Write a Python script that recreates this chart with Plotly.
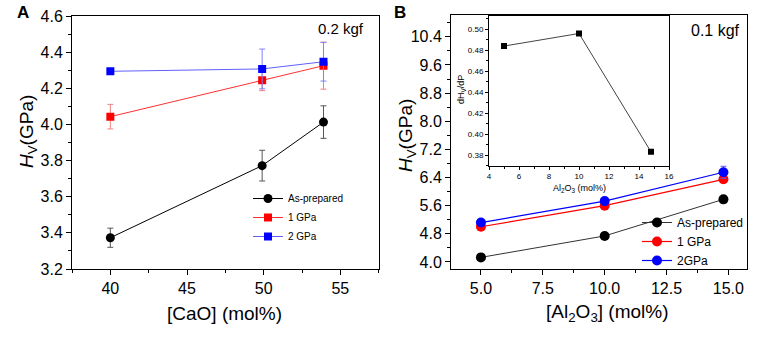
import plotly.graph_objects as go

# ---------------- Data ----------------
# Panel A: Hv vs [CaO]
cao_x = [40, 49.9, 53.9]
a_asprep = [3.373, 3.772, 4.013]
a_asprep_err = [0.053, 0.085, 0.09]
a_1gpa = [4.043, 4.244, 4.325]
a_1gpa_err = [0.068, 0.057, 0.13]
a_2gpa = [4.294, 4.307, 4.347]
a_2gpa_err = [0.0, 0.11, 0.107]

# Panel B: Hv vs [Al2O3]
al_x = [5.0, 10.0, 14.8]
b_asprep = [4.13, 4.74, 5.78]
b_asprep_err = [0.04, 0.05, 0.06]
b_1gpa = [5.00, 5.60, 6.35]
b_1gpa_err = [0.06, 0.10, 0.10]
b_2gpa = [5.12, 5.73, 6.55]
b_2gpa_err = [0.05, 0.06, 0.17]

# Inset: dHv/dP vs Al2O3
inset_x = [5.0, 10.0, 14.8]
inset_y = [0.484, 0.496, 0.383]

FONT = "Liberation Sans, Arial, sans-serif"
W, H = 765, 339

def px_x(p):
    return p / W

def px_y(p):
    return 1 - p / H

fig = go.Figure()

# Panel A traces
fig.add_trace(go.Scatter(x=cao_x, y=a_asprep, name="As-prepared", mode="lines+markers",
                         line=dict(color="black", width=1),
                         marker=dict(symbol="circle", size=9, color="black"),
                         error_y=dict(type="data", array=a_asprep_err, color="#555555", thickness=1, width=3),
                         xaxis="x", yaxis="y", legend="legend"))
fig.add_trace(go.Scatter(x=cao_x, y=a_1gpa, name="1 GPa", mode="lines+markers",
                         line=dict(color="#ff3030", width=1),
                         marker=dict(symbol="square", size=8, color="#ff0000"),
                         error_y=dict(type="data", array=a_1gpa_err, color="#f08080", thickness=1, width=3),
                         xaxis="x", yaxis="y", legend="legend"))
fig.add_trace(go.Scatter(x=cao_x, y=a_2gpa, name="2 GPa", mode="lines+markers",
                         line=dict(color="#6060ff", width=1),
                         marker=dict(symbol="square", size=8, color="#0000ff"),
                         error_y=dict(type="data", array=a_2gpa_err, color="#8080ff", thickness=1, width=3),
                         xaxis="x", yaxis="y", legend="legend"))

# Panel B traces
fig.add_trace(go.Scatter(x=al_x, y=b_asprep, name="As-prepared", mode="lines+markers",
                         line=dict(color="#333333", width=1),
                         marker=dict(symbol="circle", size=10, color="black"),
                         error_y=dict(type="data", array=b_asprep_err, color="#555555", thickness=1, width=3),
                         xaxis="x2", yaxis="y2", legend="legend2"))
fig.add_trace(go.Scatter(x=al_x, y=b_1gpa, name="1 GPa", mode="lines+markers",
                         line=dict(color="#ff0000", width=1.2),
                         marker=dict(symbol="circle", size=10, color="#ff0000"),
                         error_y=dict(type="data", array=b_1gpa_err, color="#f06060", thickness=1, width=3),
                         xaxis="x2", yaxis="y2", legend="legend2"))
fig.add_trace(go.Scatter(x=al_x, y=b_2gpa, name="2GPa", mode="lines+markers",
                         line=dict(color="#0000ff", width=1.2),
                         marker=dict(symbol="circle", size=10, color="#0000ff"),
                         error_y=dict(type="data", array=b_2gpa_err, color="#6060ff", thickness=1, width=3),
                         xaxis="x2", yaxis="y2", legend="legend2"))

# Inset
fig.add_trace(go.Scatter(x=inset_x, y=inset_y, mode="lines+markers", showlegend=False,
                         line=dict(color="#444444", width=1),
                         marker=dict(symbol="square", size=6, color="black"),
                         xaxis="x3", yaxis="y3"))

def ax(domain, rng, dtick, minor_dtick, fmt, fsize, anchor, tick0=None):
    d = dict(domain=domain, range=rng, dtick=dtick, tickformat=fmt,
             showline=True, linecolor="black", linewidth=1, mirror=True,
             ticks="outside", ticklen=5, tickwidth=1, tickcolor="black",
             showgrid=False, zeroline=False, anchor=anchor, automargin=False,
             tickfont=dict(family=FONT, size=fsize, color="black"),
             minor=dict(ticks="outside", ticklen=3, dtick=minor_dtick, tickcolor="black", showgrid=False))
    if tick0 is not None:
        d["tick0"] = tick0
    return d

layout = dict(
    width=W, height=H,
    margin=dict(l=0, r=0, t=0, b=0, pad=0, autoexpand=False),
    paper_bgcolor="white", plot_bgcolor="white",
    font=dict(family=FONT, color="black"),
    xaxis=ax([px_x(72), px_x(378.7)], [37.5, 57.5], 5, 2.5, "d", 16, "y", tick0=40),
    yaxis=ax([px_y(269), px_y(16)], [3.2, 4.6], 0.2, 0.1, ".1f", 16, "x", tick0=3.2),
    xaxis2=ax([px_x(451), px_x(746.7)], [3.79, 15.74], 2.5, 1.25, ".1f", 16, "y2", tick0=5),
    yaxis2=ax([px_y(269), px_y(15)], [3.8, 11.02], 0.8, 0.4, ".1f", 16, "x2", tick0=4.0),
    xaxis3=ax([px_x(489), px_x(669)], [4, 16], 2, 1, "d", 8, "y3", tick0=4),
    yaxis3=ax([px_y(165.7), px_y(16)], [0.3698, 0.5127], 0.02, 0.01, ".2f", 8, "x3", tick0=0.38),
    legend=dict(x=px_x(248), y=px_y(184), xanchor="left", yanchor="top",
                bgcolor="rgba(0,0,0,0)", font=dict(family=FONT, size=10, color="black"),
                itemwidth=30, tracegroupgap=0),
    legend2=dict(x=px_x(637), y=px_y(208), xanchor="left", yanchor="top",
                 bgcolor="rgba(0,0,0,0)", font=dict(family=FONT, size=12, color="black"),
                 itemwidth=30, tracegroupgap=0),
    showlegend=True,
)
layout["xaxis3"]["ticklen"] = 3
layout["yaxis3"]["ticklen"] = 3
layout["xaxis3"]["minor"]["ticklen"] = 2
layout["yaxis3"]["minor"]["ticklen"] = 2
fig.update_layout(**layout)

ann = [
    dict(text="<b>A</b>", x=px_x(23), y=px_y(12), font=dict(size=17)),
    dict(text="<b>B</b>", x=px_x(400), y=px_y(12), font=dict(size=17)),
    dict(text="0.2 kgf", x=px_x(341), y=px_y(29), font=dict(size=15)),
    dict(text="0.1 kgf", x=px_x(715), y=px_y(30), font=dict(size=16)),
    dict(text="<i>H</i><sub>V</sub>(GPa)", x=px_x(28), y=px_y(132), textangle=-90, font=dict(size=19)),
    dict(text="<i>H</i><sub>V</sub>(GPa)", x=px_x(407), y=px_y(136), textangle=-90, font=dict(size=19)),
    dict(text="[CaO] (mol%)", x=px_x(224), y=px_y(313), font=dict(size=19)),
    dict(text="[Al<sub>2</sub>O<sub>3</sub>] (mol%)", x=px_x(607), y=px_y(313), font=dict(size=19)),
    dict(text="Al<sub>2</sub>O<sub>3</sub> (mol%)", x=px_x(579), y=px_y(188), font=dict(size=9)),
    dict(text="dH<sub>V</sub>/dP", x=px_x(462), y=px_y(90), textangle=-90, font=dict(size=9)),
]
for a in ann:
    a.update(xref="paper", yref="paper", showarrow=False, xanchor="center", yanchor="middle")
    a["font"].update(family=FONT, color="black")
fig.update_layout(annotations=ann)

fig.write_html("out.html", config={"displayModeBar": False},
               post_script="document.body.style.margin='0';document.body.style.padding='0';")
